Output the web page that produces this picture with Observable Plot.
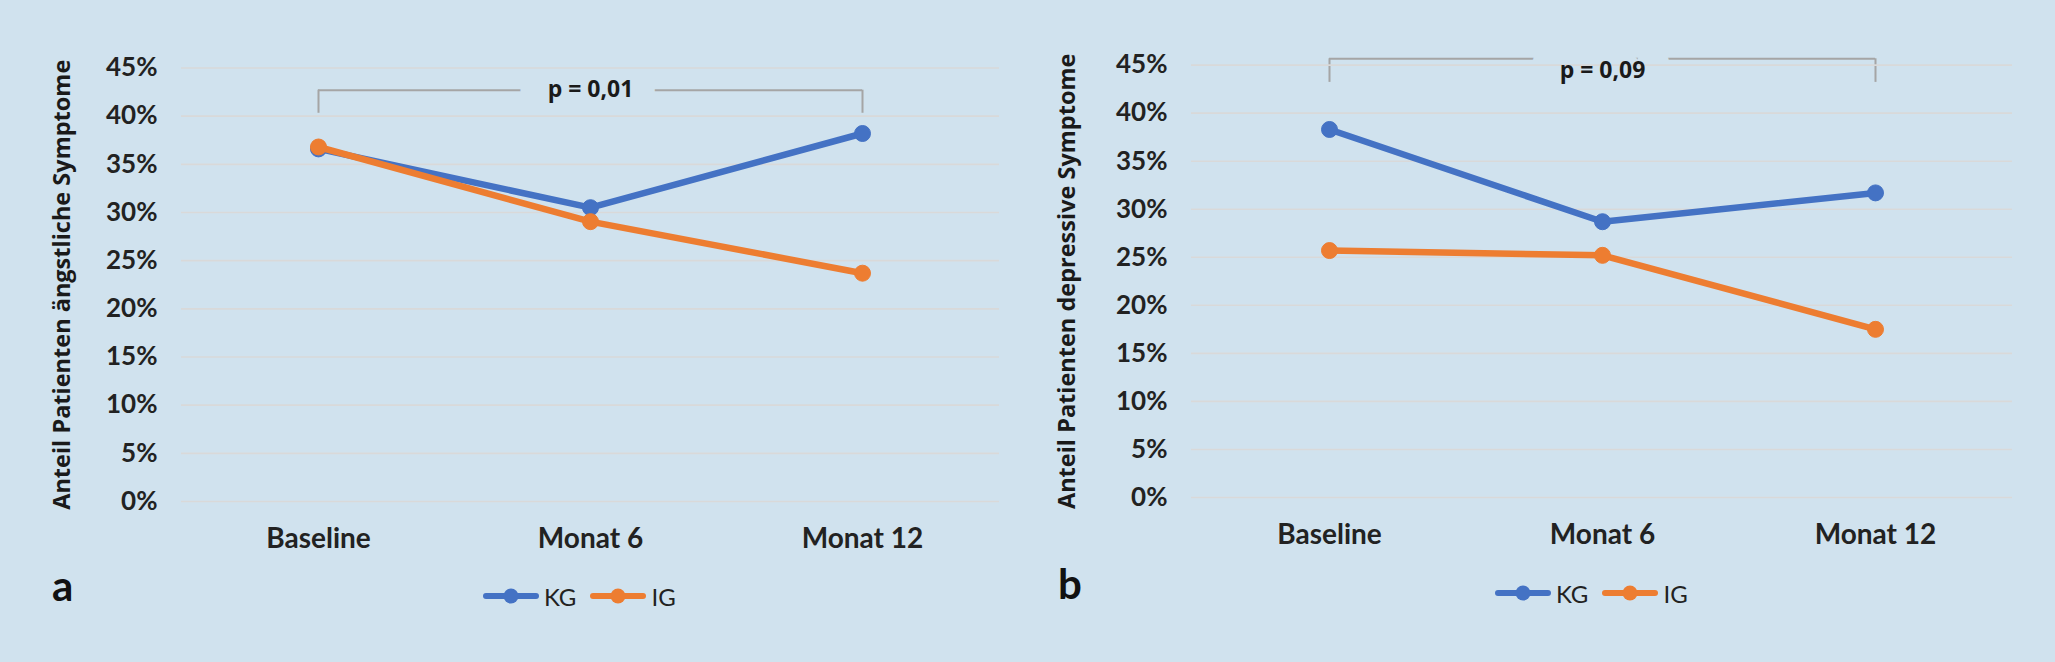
<!DOCTYPE html>
<html>
<head>
<meta charset="utf-8">
<script src="https://cdn.jsdelivr.net/npm/d3@7"></script>
<script src="https://cdn.jsdelivr.net/npm/@observablehq/plot@0.6"></script>
<style>
  html, body { margin: 0; padding: 0; background: #d0e2ee; }
  #root { position: relative; width: 2055px; height: 662px; overflow: hidden; background: #d0e2ee; }
  .panel { position: absolute; top: 0; height: 662px; }
  .letter { position: absolute; font-family: Lato, sans-serif; font-weight: 700; font-size: 42px; line-height: 42px; color: #111; }
  .legend { position: absolute; display: flex; align-items: center; height: 30px; font-family: Lato, sans-serif; font-size: 24px; color: #222; }
  .legend .item { display: flex; align-items: center; margin-right: 14px; }
  .legend svg { margin-right: 5px; }
</style>
</head>
<body>
<div id="root"></div>
<script>
// ---- data ----
const categories = ["Baseline", "Monat 6", "Monat 12"];
const seriesNames = ["KG", "IG"];
const seriesColors = ["#4472c4", "#ed7d31"];
const kgAnx = [0.366, 0.305, 0.382];
const igAnx = [0.368, 0.2905, 0.237];
const kgDep = [0.383, 0.287, 0.317];
const igDep = [0.257, 0.252, 0.175];
const yTicks = [0, 0.05, 0.10, 0.15, 0.20, 0.25, 0.30, 0.35, 0.40, 0.45];
const yTitles = ["Anteil Patienten ängstliche Symptome", "Anteil Patienten depressive Symptome"];
const panelLetters = ["a", "b"];
const pLabels = ["p = 0,01", "p = 0,09"];
const bracketTop = [0.427, 0.4566];
const bracketBottom = [0.403, 0.432];
const pLabelY = [0.428, 0.4444];

// ---- layout ----
const BG = "#d0e2ee";
const layouts = [
  { left: 0, width: 1028, mL: 181, mR: 29, mT: 67.5, mB: 59, titleDx: -119, letterX: 52, letterTop: 564, legendX: 483, legendY: 581 },
  { left: 1028, width: 1027, mL: 163, mR: 43, mT: 64.6, mB: 63, titleDx: -124, letterX: 30, letterTop: 562, legendX: 467, legendY: 578 }
];
const panelData = [[kgAnx, igAnx], [kgDep, igDep]];

const root = document.getElementById("root");

layouts.forEach((L, p) => {
  const panel = document.createElement("div");
  panel.className = "panel";
  panel.style.left = L.left + "px";
  panel.style.width = L.width + "px";

  const series = panelData[p].map((vals, s) =>
    categories.map((c, i) => ({ cat: c, v: vals[i], s: seriesNames[s] })));

  const bracketH = [{ a: categories[0], b: categories[2], y: bracketTop[p] }];
  const bracketV = [{ x: categories[0] }, { x: categories[2] }];
  const pRow = [{ x: categories[1], y: pLabelY[p], t: pLabels[p] }];

  const marks = [
    Plot.ruleY(bracketH, { x1: "a", x2: "b", y: "y", stroke: "#a5a5a5", strokeWidth: 2 }),
    Plot.ruleX(bracketV, { x: "x", y1: bracketBottom[p], y2: bracketTop[p], stroke: "#a5a5a5", strokeWidth: 2 }),
    Plot.text(pRow, { x: "x", y: "y", text: "t", dx: -2, fill: BG, stroke: BG, strokeWidth: 54,
      fontFamily: "Open Sans", fontWeight: 700, fontSize: 23 }),
    Plot.gridY(yTicks, { stroke: "#d9d9d9", strokeOpacity: 1, strokeWidth: 1.6 }),
    Plot.axisY(yTicks, { tickSize: 0, tickPadding: 24, tickFormat: d => Math.round(d * 100) + "%",
      fontFamily: "Lato", fontSize: 26, fontWeight: 700, fill: "#222" }),
    Plot.axisX({ tickSize: 0, tickPadding: 27, fontFamily: "Lato", fontSize: 28, fontWeight: 700, fill: "#222" }),
    Plot.text([yTitles[p]], { text: d => d, frameAnchor: "left", dx: L.titleDx, rotate: -90,
      textAnchor: "middle", lineAnchor: "middle", fontFamily: "Open Sans", fontWeight: 700, fontSize: 23.5, fill: "#1a1a1a" })
  ];
  series.forEach((rows, s) => {
    marks.push(Plot.line(rows, { x: "cat", y: "v", stroke: seriesColors[s], strokeWidth: 6.5 }));
    marks.push(Plot.dot(rows, { x: "cat", y: "v", r: 8, fill: seriesColors[s], stroke: seriesColors[s], strokeWidth: 1 }));
  });
  marks.push(Plot.text(pRow, { x: "x", y: "y", text: "t", fill: "#1a1a1a",
    fontFamily: "Open Sans", fontWeight: 700, fontSize: 23 }));

  const chart = Plot.plot({
    width: L.width,
    height: 560,
    marginLeft: L.mL,
    marginRight: L.mR,
    marginTop: L.mT,
    marginBottom: L.mB,
    style: { background: "transparent", overflow: "visible", fontFamily: "Lato" },
    x: { type: "point", domain: categories, padding: 0.5, axis: null, label: null },
    y: { domain: [0, 0.45], axis: null, label: null },
    marks
  });
  chart.style.position = "absolute";
  chart.style.left = "0px";
  chart.style.top = "0px";
  panel.appendChild(chart);

  const letter = document.createElement("div");
  letter.className = "letter";
  letter.textContent = panelLetters[p];
  letter.style.left = L.letterX + "px";
  letter.style.top = L.letterTop + "px";
  panel.appendChild(letter);

  const legend = document.createElement("div");
  legend.className = "legend";
  legend.style.left = L.legendX + "px";
  legend.style.top = L.legendY + "px";
  seriesNames.forEach((name, s) => {
    const item = document.createElement("div");
    item.className = "item";
    item.innerHTML = `<svg width="56" height="20" viewBox="0 0 56 20"><line x1="3" y1="10" x2="53" y2="10" stroke="${seriesColors[s]}" stroke-width="6" stroke-linecap="round"/><circle cx="28" cy="10" r="7.5" fill="${seriesColors[s]}"/></svg><span>${name}</span>`;
    legend.appendChild(item);
  });
  panel.appendChild(legend);

  root.appendChild(panel);
});
</script>
</body>
</html>
